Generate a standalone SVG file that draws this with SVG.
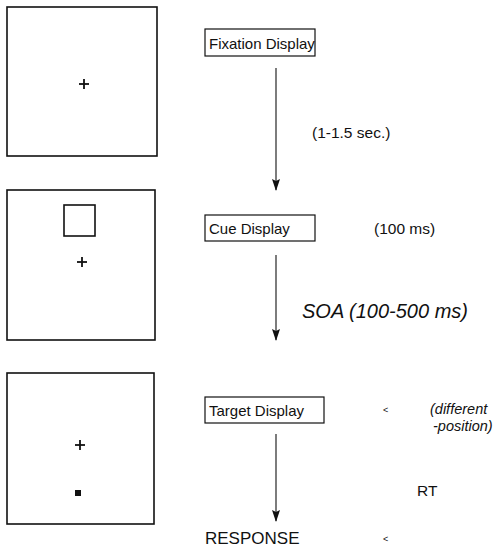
<svg xmlns="http://www.w3.org/2000/svg" width="495" height="547" viewBox="0 0 495 547">
<style>
.frame{fill:none;stroke:#111;stroke-width:1.6}
.lab{fill:none;stroke:#111;stroke-width:1.2}
.t{font-family:"Liberation Sans",Arial,sans-serif;font-size:15.5px;fill:#111}
.bl{font-size:15px}
.i{font-style:italic}
.cross{stroke:#111;stroke-width:1.8}
.conn{stroke:#111;stroke-width:1.1;fill:none}
.sm{font-family:"Liberation Sans",Arial,sans-serif;font-size:9px;fill:#111}
</style>
<defs>
<marker id="a" markerWidth="12" markerHeight="8" refX="11" refY="4" orient="auto" markerUnits="userSpaceOnUse" viewBox="0 0 12 8">
<path d="M0,0 L12,4 L0,8 L2,4 Z" fill="#111"/>
</marker>
</defs>
<g id="screen1">
<rect class="frame" x="7" y="7" width="150" height="149"/>
<line class="cross" x1="79" y1="84" x2="89" y2="84"/>
<line class="cross" x1="84" y1="79" x2="84" y2="89"/>
</g>
<g id="screen2">
<rect class="frame" x="7" y="190" width="148" height="150"/>
<rect class="frame" x="64" y="205" width="31" height="31"/>
<line class="cross" x1="77" y1="262" x2="87" y2="262"/>
<line class="cross" x1="82" y1="257" x2="82" y2="267"/>
</g>
<g id="screen3">
<rect class="frame" x="7" y="373" width="147" height="151"/>
<line class="cross" x1="75" y1="445" x2="85" y2="445"/>
<line class="cross" x1="80" y1="440" x2="80" y2="450"/>
<rect x="75" y="490" width="6" height="6" fill="#111"/>
</g>
<g id="fixation">
<rect class="lab" x="205" y="29" width="110" height="27"/>
<text class="t bl" x="209" y="48.5">Fixation Display</text>
</g>
<g id="cue">
<rect class="lab" x="205" y="215" width="110" height="26"/>
<text class="t bl" x="209" y="234">Cue Display</text>
</g>
<g id="target">
<rect class="lab" x="205" y="397" width="119" height="26"/>
<text class="t bl" x="209" y="416">Target Display</text>
</g>
<g id="response">
<text class="t" x="205" y="544" style="font-size:17px">RESPONSE</text>
</g>
<g id="connectors">
<line class="conn" x1="276" y1="68" x2="276" y2="190" marker-end="url(#a)"/>
<line class="conn" x1="276" y1="255" x2="276" y2="340" marker-end="url(#a)"/>
<line class="conn" x1="276" y1="434" x2="276" y2="521" marker-end="url(#a)"/>
</g>
<g id="labels">
<text class="t" x="312" y="138">(1-1.5 sec.)</text>
<text class="t" x="374" y="234">(100 ms)</text>
<text class="t i" x="302" y="318" style="font-size:20px">SOA (100-500 ms)</text>
<text class="t i" x="430" y="414" style="font-size:14.5px">(different</text>
<text class="t i" x="433" y="431" style="font-size:14.5px">-position)</text>
<text class="t" x="417" y="496">RT</text>
<text class="sm" x="383" y="413">&lt;</text>
<text class="sm" x="383" y="542">&lt;</text>
</g>
</svg>
